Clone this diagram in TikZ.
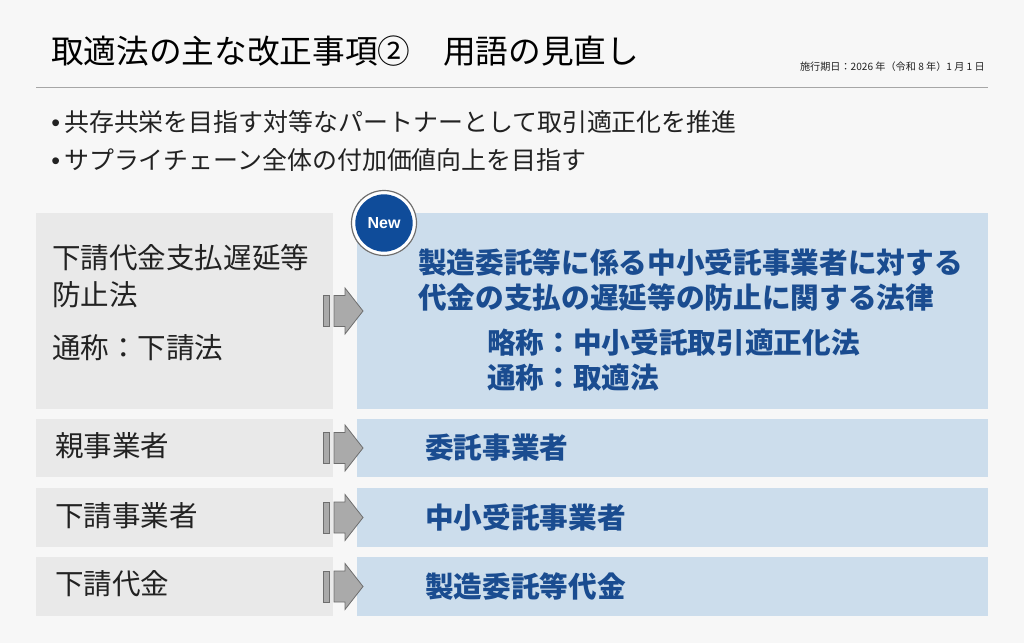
\documentclass[tikz,border=0pt]{standalone}
\usepackage{fontspec}
\newfontfamily\jp{Noto Sans CJK JP}
\newfontfamily\sans{Liberation Sans}
\definecolor{bgc}{HTML}{F7F7F7}
\definecolor{graybox}{HTML}{E9E9E9}
\definecolor{bluebox}{HTML}{CCDDEC}
\definecolor{navy}{HTML}{1A4C90}
\definecolor{badge}{HTML}{0F4C9A}
\definecolor{arrfill}{HTML}{AAAAAA}
\definecolor{arrline}{HTML}{6E6E6E}
\definecolor{txt}{HTML}{222222}
\tikzset{
  lbox/.style={fill=graybox, draw=none},
  rbox/.style={fill=bluebox, draw=none},
  ltxt/.style={anchor=west, inner sep=0pt, text=txt, font=\jp\fontsize{21.4}{24}\selectfont},
  rtxt/.style={anchor=west, inner sep=0pt, text=navy, font=\jp\bfseries\fontsize{21.5}{24}\selectfont},
  bul/.style={anchor=west, inner sep=0pt, text=txt, font=\jp\fontsize{18.7}{23}\selectfont},
  arr/.style={fill=arrfill, draw=arrline, line width=0.6pt, line join=miter},
}
\newcommand{\rowarrow}[1]{%
  \draw[arr] (323.5,#1-15.5) rectangle (329.5,#1+15.5);
  \draw[arr] (334,#1-15.5) -- (345,#1-15.5) -- (345,#1-23) -- (363,#1) -- (345,#1+23) -- (345,#1+15.5) -- (334,#1+15.5) -- cycle;
}
\begin{document}
\begin{tikzpicture}[x=0.75pt,y=-0.75pt]
\useasboundingbox (0,0) rectangle (1024,643);
\fill[bgc] (0,0) rectangle (1024,643);
% title
\node[anchor=west, inner sep=0pt, text=black, font=\jp\fontsize{24.5}{28}\selectfont] (title) at (51,51) {取適法の主な改正事項②　用語の見直し};
\node[anchor=east, inner sep=0pt, text=txt, font=\jp\fontsize{7.6}{9}\selectfont] (date) at (985,67) {施行期日：2026 年（令和 8 年）1 月 1 日};
\draw[gray!70, line width=1pt] (36,87.5) coordinate (l1) -- (988,87.5) coordinate (l2);
% bullets
\node[bul] (b1) at (51,122) {{\sans •}\,共存共栄を目指す対等なパートナーとして取引適正化を推進};
\node[bul] (b2) at (51,160) {{\sans •}\,サプライチェーン全体の付加価値向上を目指す};
% boxes
\fill[lbox] (36,213) rectangle (333,409);
\fill[rbox] (357,213) rectangle (988,409);
\fill[lbox] (36,419) rectangle (333,477);
\fill[rbox] (357,419) rectangle (988,477);
\fill[lbox] (36,488) rectangle (333,547);
\fill[rbox] (357,488) rectangle (988,547);
\fill[lbox] (36,557) rectangle (333,616);
\fill[rbox] (357,557) rectangle (988,616);
% arrows
\rowarrow{311}
\rowarrow{448}
\rowarrow{517.5}
\rowarrow{586.5}
% left texts
\node[ltxt] (l1a) at (52,258) {下請代金支払遅延等};
\node[ltxt] (l1b) at (52,295) {防止法};
\node[ltxt] (l1c) at (52,348) {通称：下請法};
\node[ltxt] (l2) at (55,446) {親事業者};
\node[ltxt] (l3) at (55,516) {下請事業者};
\node[ltxt] (l4) at (55,584) {下請代金};
% right texts
\node[rtxt] (r1a) at (418,262) {製造委託等に係る中小受託事業者に対する};
\node[rtxt] (r1b) at (418,298) {代金の支払の遅延等の防止に関する法律};
\node[rtxt] (r1c) at (487,343) {略称：中小受託取引適正化法};
\node[rtxt] (r1d) at (487,378) {通称：取適法};
\node[rtxt] (r2) at (425,448) {委託事業者};
\node[rtxt] (r3) at (425,518) {中小受託事業者};
\node[rtxt] (r4) at (425,586) {製造委託等代金};
% New badge
\fill[white] (384,223) circle (33);
\draw[arrline, line width=0.9pt] (384,223) circle (32.5);
\node[circle, fill=badge, minimum size=43pt, inner sep=0pt, text=white, font=\sans\bfseries\fontsize{12}{14}\selectfont] (new) at (384,223) {New};
\end{tikzpicture}
\end{document}
